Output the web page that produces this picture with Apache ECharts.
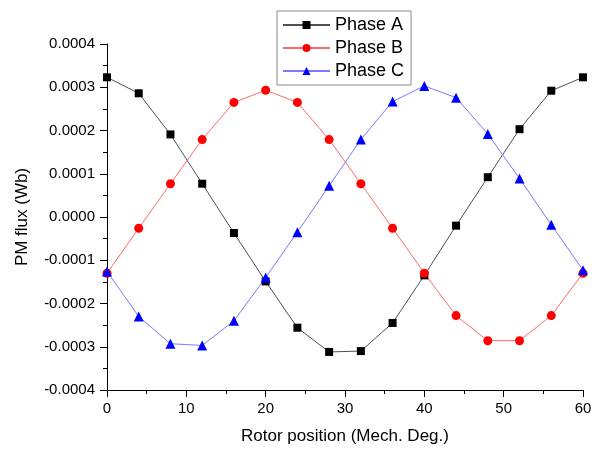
<!DOCTYPE html>
<html>
<head>
<meta charset="utf-8">
<script src="https://cdn.jsdelivr.net/npm/echarts@6/dist/echarts.min.js"></script>
<style>
  html, body { margin: 0; padding: 0; background: #fff; }
  #chart { width: 602px; height: 453px; }
</style>
</head>
<body>
<div id="chart"></div>
<script>
// rotor position (mech. deg)
const positions = [0, 4, 8, 12, 16, 20, 24, 28, 32, 36, 40, 44, 48, 52, 56, 60];

// PM flux (Wb)
const phaseA = [0.000323, 0.000286, 0.000191, 0.000077, -0.000037, -0.000149, -0.000256, -0.000312, -0.000310,
  -0.000245, -0.000135, -0.000020, 0.000092, 0.000203, 0.000292, 0.000323];
const phaseB = [-0.000130, -0.000026, 0.000077, 0.000179, 0.000265, 0.000293, 0.000265, 0.000179, 0.000077,
  -0.000026, -0.000130, -0.000228, -0.000286, -0.000286, -0.000228, -0.000130];
const phaseC = [-0.000126, -0.000230, -0.000293, -0.000297, -0.000240, -0.000140, -0.000035, 0.000072, 0.000179,
  0.000267, 0.000303, 0.000276, 0.000192, 0.000089, -0.000018, -0.000123];

const seriesNames = ['Phase A', 'Phase B', 'Phase C'];

const chart = echarts.init(document.getElementById('chart'));

const font = '"Liberation Sans", Arial, sans-serif';

const pairs = vals => positions.map((p, i) => [p, vals[i]]);

const axisCommon = {
  axisLine: { show: true, onZero: false, lineStyle: { color: '#000', width: 1 } },
  axisTick: { show: true, inside: false, length: 7, lineStyle: { color: '#000', width: 1 } },
  minorTick: { show: true, splitNumber: 2, length: 4, lineStyle: { color: '#000', width: 1 } },
  splitLine: { show: false },
  axisLabel: { color: '#000', fontSize: 15, fontFamily: font },
  nameTextStyle: { color: '#000', fontSize: 17, fontFamily: font }
};

const options = {
  animation: false,
  backgroundColor: '#fff',
  grid: { left: 107, right: 19, top: 44, bottom: 63 },
  legend: {
    orient: 'vertical',
    left: 277,
    top: 11,
    padding: [5, 7, 5, 5],
    itemGap: 5,
    itemWidth: 47,
    itemHeight: 10,
    borderColor: '#888',
    borderWidth: 1,
    textStyle: { color: '#000', fontSize: 18, fontFamily: font },
    data: seriesNames
  },
  xAxis: Object.assign({}, axisCommon, {
    type: 'value',
    min: 0,
    max: 60,
    interval: 10,
    name: 'Rotor position (Mech. Deg.)',
    nameLocation: 'middle',
    nameGap: 38,
    axisLabel: Object.assign({}, axisCommon.axisLabel, { margin: 11 })
  }),
  yAxis: Object.assign({}, axisCommon, {
    type: 'value',
    min: -0.0004,
    max: 0.0004,
    interval: 0.0001,
    name: 'PM flux (Wb)',
    nameLocation: 'middle',
    nameGap: 76,
    axisLabel: Object.assign({}, axisCommon.axisLabel, {
      margin: 12,
      formatter: v => (Math.abs(v) < 1e-9 ? 0 : v).toFixed(4)
    })
  }),
  series: [
    {
      name: 'Phase A',
      type: 'line',
      data: pairs(phaseA),
      symbol: 'rect',
      symbolSize: 8,
      itemStyle: { color: '#000' },
      lineStyle: { color: '#505050', width: 1 }
    },
    {
      name: 'Phase B',
      type: 'line',
      data: pairs(phaseB),
      symbol: 'circle',
      symbolSize: 9,
      itemStyle: { color: '#ff0000' },
      lineStyle: { color: '#ff6a6a', width: 1 }
    },
    {
      name: 'Phase C',
      type: 'line',
      data: pairs(phaseC),
      symbol: 'triangle',
      symbolSize: 10,
      itemStyle: { color: '#0000ff' },
      lineStyle: { color: '#7a7aff', width: 1 }
    }
  ]
};

chart.setOption(options);
</script>
</body>
</html>
